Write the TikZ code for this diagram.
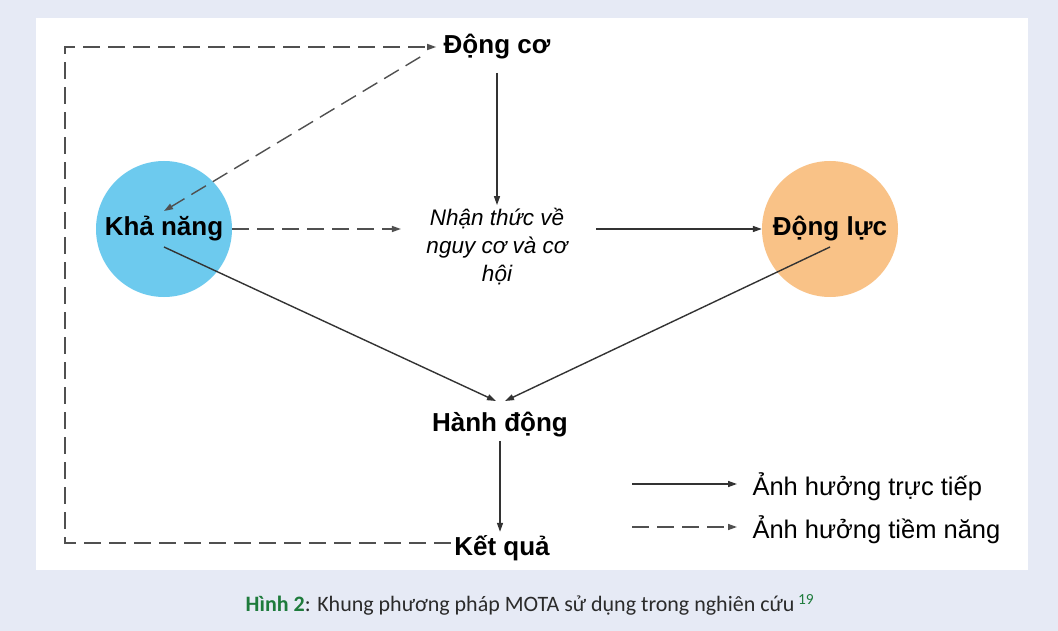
\documentclass[tikz,border=0pt]{standalone}
\usepackage{fontspec}
\setmainfont{Liberation Sans}
\newfontfamily\capfont{Carlito}
\usetikzlibrary{arrows.meta}
\definecolor{pagebg}{HTML}{E6EAF5}
\definecolor{skyfill}{HTML}{6DCAEE}
\definecolor{peachfill}{HTML}{F9C287}
\definecolor{linegray}{HTML}{333333}
\definecolor{dashgray}{HTML}{505050}
\definecolor{figgreen}{HTML}{1E7B3C}
\definecolor{captext}{HTML}{2B2B2B}

\begin{document}
\begin{tikzpicture}[x=1pt, y=-1pt, >={Triangle[length=9pt,width=6pt]},
  factor/.style={font=\fontsize{26}{30}\selectfont\bfseries},
  blob/.style={circle, minimum size=136pt, inner sep=0pt},
  keytext/.style={font=\fontsize{25.5}{30}\selectfont, anchor=west},
  direct/.style={->, line width=1.4pt, draw=linegray},
  potential/.style={->, line width=1.4pt, draw=dashgray, dash pattern=on 17pt off 8pt}]
\useasboundingbox (0,0) rectangle (1058,631);
\fill[pagebg] (0,0) rectangle (1058,631);
\fill[white] (36,18) rectangle (1028,570);
\node[blob, fill=skyfill, factor] (ability) at (164,229) {Khả năng};
\node[blob, fill=peachfill, factor] (drive) at (830,229) {Động lực};
\node[factor] (motive) at (497,47) {Động cơ};
\node[font=\fontsize{22.5}{28}\selectfont\itshape, align=center] (aware) at (497,247) {Nhận thức về\\nguy cơ và cơ\\hội};
\node[factor] (action) at (500,425) {Hành động};
\node[factor] (outcome) at (502,548) {Kết quả};
\coordinate (loopbot) at (65,543);
\coordinate (looptop) at (65,47);
\draw[direct, shorten <=10pt] (motive) -- (aware);
\draw[potential, shorten >=22pt] (ability.east) -- (ability.east -| aware.west);
\draw[direct, shorten <=25pt] (drive.west -| aware.east) -- (drive.west);
\draw[direct] ([yshift=-18pt]ability.center) -- ([xshift=-4pt,yshift=8pt]action.north);
\draw[direct] ([yshift=-18pt]drive.center) -- ([xshift=5pt,yshift=8pt]action.north);
\draw[direct] (action.south) -- (action.south |- outcome.north);
\draw[potential] ([shift={(-20pt,-10pt)}]motive.west) -- ([yshift=18pt]ability.center);
\draw[potential, shorten >=4pt] (outcome.west |- loopbot) -- (loopbot) -- (looptop) -- (motive.west);
\node[keytext] (keydirect) at (749,487) {Ảnh hưởng trực tiếp};
\node[keytext] (keypotential) at (749,530) {Ảnh hưởng tiềm năng};
\coordinate (keyd) at (632,484);
\coordinate (keyp) at (632,527);
\draw[direct, shorten >=12pt] (keyd) -- (keyd -| keydirect.west);
\draw[potential, shorten >=12pt] (keyp) -- (keyp -| keypotential.west);
\node[font=\capfont\fontsize{22}{26}\selectfont, text=captext] (caption) at (530,605) {\textcolor{figgreen}{\bfseries Hình 2}: Khung phương pháp MOTA sử dụng trong nghiên cứu\,\textsuperscript{\textcolor{figgreen}{19}}};
\end{tikzpicture}
\end{document}
